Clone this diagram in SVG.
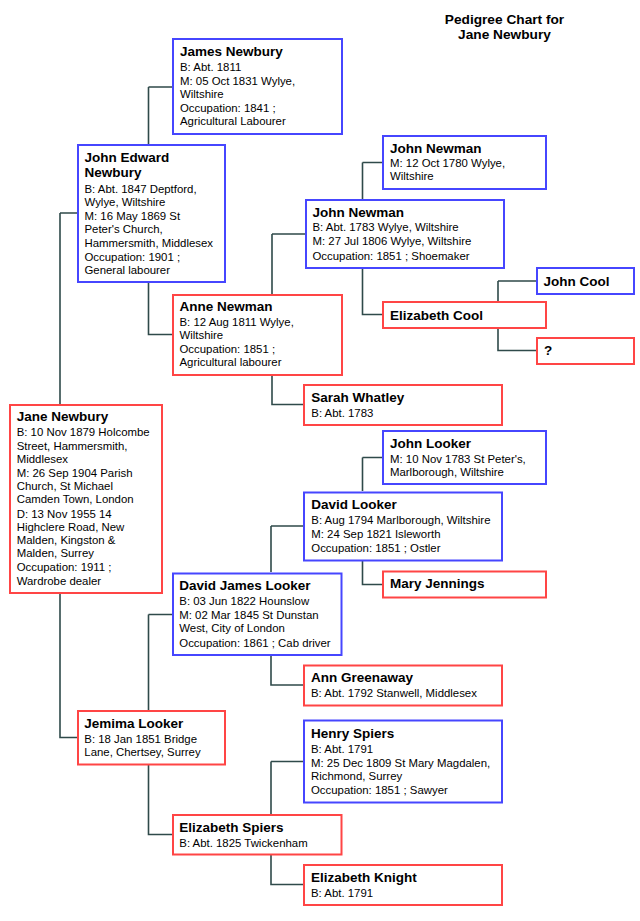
<svg xmlns="http://www.w3.org/2000/svg" width="640" height="921" viewBox="0 0 640 921">
<style>
.m{fill:#fff;stroke:#4646ff;stroke-width:2}
.f{fill:#fff;stroke:#ff4545;stroke-width:2}
.n{font-family:"Liberation Sans",Arial,sans-serif;font-weight:bold;font-size:13.5px;fill:#000}
.t{font-family:"Liberation Sans",Arial,sans-serif;font-weight:bold;font-size:13.7px;fill:#000}
.d{font-family:"Liberation Sans",Arial,sans-serif;font-size:11.4px;fill:#000}
.c{fill:none;stroke:#2f4a4a;stroke-width:1.6}
</style>
<rect width="640" height="921" fill="#fff"/>
<g id="title">
<text class="t" x="504.5" y="23.5" text-anchor="middle">Pedigree Chart for</text>
<text class="t" x="504.5" y="38.5" text-anchor="middle">Jane Newbury</text>
</g>
<g id="connectors">
<path class="c" d="M148.5,87 H172 M148.5,87 V144"/>
<path class="c" d="M60,213 H77 M60,213 V404"/>
<path class="c" d="M148.5,283 V334.5 H172"/>
<path class="c" d="M362.5,162.5 H382 M362.5,162.5 V199"/>
<path class="c" d="M272,234 H305 M272,234 V294"/>
<path class="c" d="M362.5,269 V314.5 H382"/>
<path class="c" d="M498,281 H536 M498,281 V301"/>
<path class="c" d="M498,328 V350.5 H536"/>
<path class="c" d="M272,376 V404.5 H303"/>
<path class="c" d="M362.5,457.5 H382 M362.5,457.5 V491"/>
<path class="c" d="M362.5,561 V584.5 H382"/>
<path class="c" d="M271,526 H303 M271,526 V572"/>
<path class="c" d="M271,656 V685 H303"/>
<path class="c" d="M148.5,614.5 H172 M148.5,614.5 V710"/>
<path class="c" d="M60,594 V737.5 H77"/>
<path class="c" d="M271,761.5 H303 M271,761.5 V814"/>
<path class="c" d="M148.5,765 V834.5 H172"/>
<path class="c" d="M271,855 V884.5 H303"/>
</g>
<g id="james-newbury">
<rect class="m" x="173" y="39" width="169" height="95"/>
<text class="n" x="180" y="56">James Newbury</text>
<text class="d" x="180" y="70.5">B: Abt. 1811</text>
<text class="d" x="180" y="84.5">M: 05 Oct 1831 Wylye,</text>
<text class="d" x="180" y="97.5">Wiltshire</text>
<text class="d" x="180" y="111.5">Occupation: 1841 ;</text>
<text class="d" x="180" y="125">Agricultural Labourer</text>
</g>
<g id="john-edward-newbury">
<rect class="m" x="78" y="145" width="147" height="137"/>
<text class="n" x="84.5" y="161.5">John Edward</text>
<text class="n" x="84.5" y="176.5">Newbury</text>
<text class="d" x="84.5" y="193">B: Abt. 1847 Deptford,</text>
<text class="d" x="84.5" y="206">Wylye, Wiltshire</text>
<text class="d" x="84.5" y="220">M: 16 May 1869 St</text>
<text class="d" x="84.5" y="233">Peter's Church,</text>
<text class="d" x="84.5" y="246.5">Hammersmith, Middlesex</text>
<text class="d" x="84.5" y="260.5">Occupation: 1901 ;</text>
<text class="d" x="84.5" y="273.5">General labourer</text>
</g>
<g id="anne-newman">
<rect class="f" x="173" y="295" width="169" height="80"/>
<text class="n" x="179.5" y="311">Anne Newman</text>
<text class="d" x="179.5" y="325.5">B: 12 Aug 1811 Wylye,</text>
<text class="d" x="179.5" y="338.5">Wiltshire</text>
<text class="d" x="179.5" y="353">Occupation: 1851 ;</text>
<text class="d" x="179.5" y="366">Agricultural labourer</text>
</g>
<g id="john-newman-sr">
<rect class="m" x="383" y="136" width="163" height="53"/>
<text class="n" x="390" y="153">John Newman</text>
<text class="d" x="390" y="166.5">M: 12 Oct 1780 Wylye,</text>
<text class="d" x="390" y="180">Wiltshire</text>
</g>
<g id="john-newman">
<rect class="m" x="306" y="200" width="198" height="68"/>
<text class="n" x="312.5" y="216.5">John Newman</text>
<text class="d" x="312.5" y="231.3">B: Abt. 1783 Wylye, Wiltshire</text>
<text class="d" x="312.5" y="245.3">M: 27 Jul 1806 Wylye, Wiltshire</text>
<text class="d" x="312.5" y="259.5">Occupation: 1851 ; Shoemaker</text>
</g>
<g id="john-cool">
<rect class="m" x="537" y="268" width="97" height="26"/>
<text class="n" x="543.5" y="286">John Cool</text>
</g>
<g id="elizabeth-cool">
<rect class="f" x="383" y="302" width="163" height="26"/>
<text class="n" x="390" y="319.5">Elizabeth Cool</text>
</g>
<g id="unknown">
<rect class="f" x="537" y="338" width="97" height="26"/>
<text class="n" x="544" y="355">?</text>
</g>
<g id="sarah-whatley">
<rect class="f" x="304" y="385" width="198" height="40"/>
<text class="n" x="311.3" y="401.7">Sarah Whatley</text>
<text class="d" x="311.3" y="416.7">B: Abt. 1783</text>
</g>
<g id="jane-newbury">
<rect class="f" x="10" y="405" width="152" height="188"/>
<text class="n" x="16.7" y="421.3">Jane Newbury</text>
<text class="d" x="16.7" y="436.3">B: 10 Nov 1879 Holcombe</text>
<text class="d" x="16.7" y="449.7">Street, Hammersmith,</text>
<text class="d" x="16.7" y="462.7">Middlesex</text>
<text class="d" x="16.7" y="477.3">M: 26 Sep 1904 Parish</text>
<text class="d" x="16.7" y="490.3">Church, St Michael</text>
<text class="d" x="16.7" y="503.3">Camden Town, London</text>
<text class="d" x="16.7" y="517.7">D: 13 Nov 1955 14</text>
<text class="d" x="16.7" y="530.7">Highclere Road, New</text>
<text class="d" x="16.7" y="544">Malden, Kingston &amp;</text>
<text class="d" x="16.7" y="557.3">Malden, Surrey</text>
<text class="d" x="16.7" y="571.3">Occupation: 1911 ;</text>
<text class="d" x="16.7" y="584.7">Wardrobe dealer</text>
</g>
<g id="john-looker">
<rect class="m" x="383" y="431" width="163" height="53"/>
<text class="n" x="390" y="448">John Looker</text>
<text class="d" x="390" y="463">M: 10 Nov 1783 St Peter's,</text>
<text class="d" x="390" y="475.7">Marlborough, Wiltshire</text>
</g>
<g id="david-looker">
<rect class="m" x="304" y="492.5" width="198" height="68"/>
<text class="n" x="311.3" y="509">David Looker</text>
<text class="d" x="311.3" y="524">B: Aug 1794 Marlborough, Wiltshire</text>
<text class="d" x="311.3" y="538.3">M: 24 Sep 1821 Isleworth</text>
<text class="d" x="311.3" y="552">Occupation: 1851 ; Ostler</text>
</g>
<g id="mary-jennings">
<rect class="f" x="383" y="571.5" width="163" height="26"/>
<text class="n" x="390" y="588.3">Mary Jennings</text>
</g>
<g id="david-james-looker">
<rect class="m" x="173" y="573.5" width="168.5" height="81.5"/>
<text class="n" x="179.3" y="590.3">David James Looker</text>
<text class="d" x="179.3" y="605.3">B: 03 Jun 1822 Hounslow</text>
<text class="d" x="179.3" y="619">M: 02 Mar 1845 St Dunstan</text>
<text class="d" x="179.3" y="632">West, City of London</text>
<text class="d" x="179.3" y="646.7">Occupation: 1861 ; Cab driver</text>
</g>
<g id="ann-greenaway">
<rect class="f" x="304" y="665.5" width="198" height="40"/>
<text class="n" x="311" y="682.3">Ann Greenaway</text>
<text class="d" x="311" y="697.3">B: Abt. 1792 Stanwell, Middlesex</text>
</g>
<g id="jemima-looker">
<rect class="f" x="78" y="711" width="147" height="53.5"/>
<text class="n" x="84.3" y="728">Jemima Looker</text>
<text class="d" x="84.3" y="743">B: 18 Jan 1851 Bridge</text>
<text class="d" x="84.3" y="756">Lane, Chertsey, Surrey</text>
</g>
<g id="henry-spiers">
<rect class="m" x="304" y="720.5" width="198" height="82"/>
<text class="n" x="311" y="737.7">Henry Spiers</text>
<text class="d" x="311" y="752.7">B: Abt. 1791</text>
<text class="d" x="311" y="766.7">M: 25 Dec 1809 St Mary Magdalen,</text>
<text class="d" x="311" y="779.7">Richmond, Surrey</text>
<text class="d" x="311" y="794">Occupation: 1851 ; Sawyer</text>
</g>
<g id="elizabeth-spiers">
<rect class="f" x="173" y="815" width="168.5" height="39.5"/>
<text class="n" x="179.3" y="831.7">Elizabeth Spiers</text>
<text class="d" x="179.3" y="846.7">B: Abt. 1825 Twickenham</text>
</g>
<g id="elizabeth-knight">
<rect class="f" x="304" y="865" width="198" height="40"/>
<text class="n" x="311" y="882">Elizabeth Knight</text>
<text class="d" x="311" y="897">B: Abt. 1791</text>
</g>
</svg>
